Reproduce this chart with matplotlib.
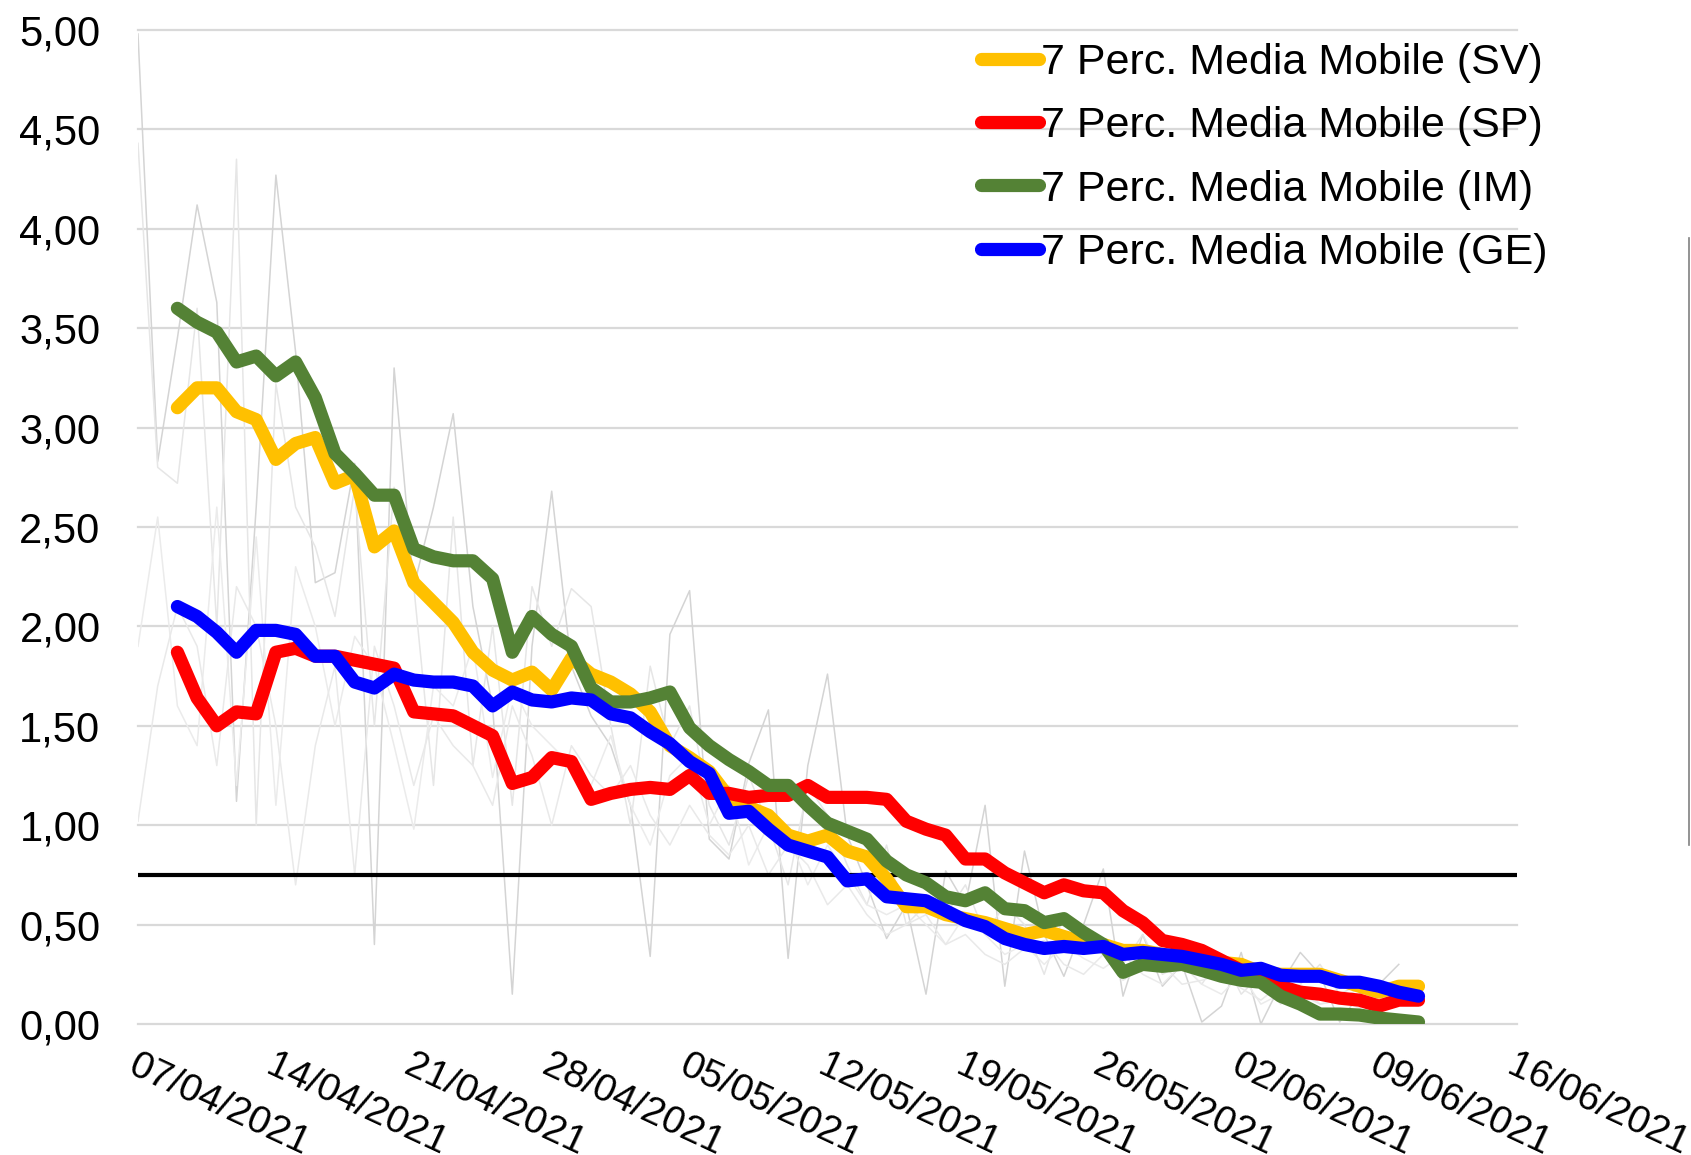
import numpy as np
import matplotlib
matplotlib.use('Agg')
import matplotlib.pyplot as plt
import matplotlib.dates as mdates
from matplotlib.ticker import FuncFormatter, MultipleLocator
from matplotlib.lines import Line2D

plt.rcParams['font.family'] = ['Liberation Sans', 'DejaVu Sans']

# dates: raw daily data from 07/04, moving averages from 09/04 to 11/06
start = np.datetime64('2021-04-07')
raw_days = start + np.arange(65)
ma_days = start + np.arange(2, 66)

# raw daily values (thin grey lines)
raw_1 = [4.98, 2.83, 3.45, 4.12, 3.63, 1.12, 2.60, 4.27, 3.38, 2.22,
         2.27, 2.82, 0.40, 3.30, 2.20, 2.60, 3.07, 2.10, 1.60, 0.15,
         1.90, 2.68, 1.80, 1.55, 1.40, 1.10, 0.34, 1.96, 2.18, 0.93,
         0.83, 1.31, 1.58, 0.33, 1.30, 1.76, 0.95, 0.70, 0.43, 0.60,
         0.15, 0.77, 0.60, 1.10, 0.19, 0.87, 0.45, 0.24, 0.50, 0.78,
         0.14, 0.45, 0.19, 0.30, 0.01, 0.09, 0.36, 0.00, 0.20, 0.36,
         0.25, 0.01, 0.15, 0.20, 0.30]
raw_2 = [4.43, 2.80, 2.72, 3.60, 2.00, 4.35, 1.00, 3.22, 2.60, 2.40,
         2.05, 2.70, 1.50, 2.70, 2.20, 1.20, 2.55, 1.30, 2.00, 1.10,
         2.20, 1.90, 2.19, 2.10, 1.50, 1.00, 1.80, 1.40, 1.60, 1.10,
         0.90, 1.25, 1.00, 0.70, 1.20, 1.05, 0.80, 0.60, 0.90, 0.50,
         0.60, 0.55, 0.70, 0.45, 0.60, 0.50, 0.25, 0.55, 0.40, 0.35,
         0.30, 0.45, 0.25, 0.30, 0.20, 0.35, 0.15, 0.25, 0.10, 0.20,
         0.30, 0.15, 0.20, 0.10, 0.18]
raw_3 = [1.90, 2.55, 1.60, 1.40, 2.60, 1.20, 2.45, 1.10, 2.30, 2.00,
         1.50, 1.95, 1.80, 1.40, 0.98, 1.70, 1.60, 1.90, 1.24, 1.70,
         1.50, 1.40, 1.30, 1.20, 1.45, 1.10, 0.90, 1.25, 1.35, 1.00,
         1.20, 0.80, 1.00, 0.95, 0.70, 0.90, 0.75, 0.60, 0.55, 0.60,
         0.50, 0.40, 0.55, 0.45, 0.35, 0.40, 0.30, 0.40, 0.33, 0.28,
         0.35, 0.25, 0.20, 0.30, 0.20, 0.15, 0.25, 0.10, 0.15, 0.20,
         0.10, 0.12, 0.08, 0.15, 0.10]
raw_4 = [1.02, 1.70, 2.10, 1.90, 1.30, 2.20, 2.00, 1.50, 0.70, 1.40,
         1.80, 0.75, 1.90, 1.60, 1.20, 1.55, 1.40, 1.30, 1.10, 1.60,
         1.35, 1.00, 1.40, 1.25, 1.15, 1.30, 1.05, 0.90, 1.10, 0.95,
         0.85, 1.00, 0.75, 0.90, 0.80, 0.60, 0.70, 0.55, 0.45, 0.50,
         0.55, 0.40, 0.45, 0.35, 0.30, 0.38, 0.42, 0.30, 0.25, 0.35,
         0.22, 0.28, 0.30, 0.20, 0.22, 0.25, 0.18, 0.12, 0.20, 0.15,
         0.10, 0.12, 0.18, 0.10, 0.14]

# 7 day moving averages
ma_sv = [3.10, 3.20, 3.20, 3.08, 3.04, 2.84, 2.92, 2.95, 2.72, 2.76,
         2.40, 2.48, 2.22, 2.12, 2.02, 1.87, 1.78, 1.73, 1.77, 1.68,
         1.84, 1.76, 1.72, 1.66, 1.57, 1.40, 1.34, 1.27, 1.14, 1.09,
         1.05, 0.95, 0.92, 0.95, 0.87, 0.84, 0.73, 0.59, 0.59, 0.55,
         0.53, 0.51, 0.48, 0.45, 0.47, 0.44, 0.41, 0.40, 0.37, 0.37,
         0.35, 0.34, 0.33, 0.31, 0.30, 0.26, 0.25, 0.25, 0.25, 0.22,
         0.19, 0.16, 0.19, 0.19]
ma_sp = [1.87, 1.64, 1.50, 1.57, 1.56, 1.87, 1.89, 1.85, 1.85, 1.83,
         1.81, 1.79, 1.57, 1.56, 1.55, 1.50, 1.45, 1.21, 1.24, 1.34,
         1.32, 1.13, 1.16, 1.18, 1.19, 1.18, 1.25, 1.16, 1.16, 1.14,
         1.15, 1.15, 1.20, 1.14, 1.14, 1.14, 1.13, 1.02, 0.98, 0.95,
         0.83, 0.83, 0.76, 0.71, 0.66, 0.70, 0.67, 0.66, 0.57, 0.51,
         0.42, 0.40, 0.37, 0.32, 0.27, 0.22, 0.19, 0.16, 0.15, 0.13,
         0.12, 0.09, 0.12, 0.12]
ma_im = [3.60, 3.53, 3.48, 3.33, 3.36, 3.26, 3.33, 3.15, 2.87, 2.77,
         2.66, 2.66, 2.39, 2.35, 2.33, 2.33, 2.24, 1.87, 2.05, 1.96,
         1.90, 1.69, 1.62, 1.62, 1.64, 1.67, 1.49, 1.40, 1.33, 1.27,
         1.20, 1.20, 1.10, 1.01, 0.97, 0.93, 0.82, 0.75, 0.71, 0.64,
         0.62, 0.66, 0.58, 0.57, 0.51, 0.53, 0.46, 0.40, 0.26, 0.30,
         0.29, 0.30, 0.27, 0.24, 0.22, 0.21, 0.14, 0.10, 0.05, 0.05,
         0.045, 0.03, 0.02, 0.01]
ma_ge = [2.10, 2.05, 1.97, 1.87, 1.98, 1.98, 1.96, 1.85, 1.85, 1.72,
         1.69, 1.76, 1.73, 1.72, 1.72, 1.70, 1.60, 1.67, 1.63, 1.62,
         1.64, 1.63, 1.56, 1.54, 1.47, 1.41, 1.32, 1.26, 1.06, 1.07,
         0.98, 0.90, 0.87, 0.84, 0.72, 0.73, 0.64, 0.63, 0.62, 0.57,
         0.52, 0.49, 0.43, 0.40, 0.38, 0.39, 0.38, 0.39, 0.35, 0.36,
         0.35, 0.34, 0.32, 0.30, 0.27, 0.28, 0.245, 0.24, 0.24, 0.21,
         0.21, 0.19, 0.16, 0.14]

threshold = 0.75

labels = ['7 Perc. Media Mobile (SV)', '7 Perc. Media Mobile (SP)',
          '7 Perc. Media Mobile (IM)', '7 Perc. Media Mobile (GE)']
colors = ['#FFC000', '#FF0000', '#548235', '#0000FF']

fig = plt.figure(figsize=(16.91, 11.55), dpi=100)
ax = fig.add_axes([138 / 1691, 131 / 1155, (1517 - 138) / 1691, (1024 - 30) / 1155])

# raw data in grey
ax.plot(raw_days, raw_1, color='#D4D4D4', lw=1.1, zorder=2)
ax.plot(raw_days, raw_2, color='#E6E6E6', lw=1.1, zorder=2)
ax.plot(raw_days, raw_3, color='#EBEBEB', lw=1.1, zorder=2)
ax.plot(raw_days, raw_4, color='#E9E9E9', lw=1.1, zorder=2)

ax.axhline(threshold, color='black', lw=3, zorder=3)

for vals, lab, col in zip([ma_sv, ma_sp, ma_im, ma_ge], labels, colors):
    ax.plot(ma_days, vals, color=col, lw=9.5, label=lab, zorder=4,
            solid_capstyle='round', solid_joinstyle='round')

ax.set_ylim(0, 5)
ax.set_xlim(np.datetime64('2021-04-07'), np.datetime64('2021-06-16'))
ax.yaxis.set_major_locator(MultipleLocator(0.5))
ax.yaxis.set_major_formatter(FuncFormatter(lambda v, p: f'{v:.2f}'.replace('.', ',')))
ax.set_xticks(np.arange(np.datetime64('2021-04-07'), np.datetime64('2021-06-17'), 7))
ax.xaxis.set_major_formatter(mdates.DateFormatter('%d/%m/%Y'))

ax.grid(axis='y', color='#D9D9D9', lw=1.6, zorder=1)
for gl in ax.get_ygridlines():
    gl.set_clip_on(False)
ax.set_axisbelow(True)
for s in ax.spines.values():
    s.set_visible(False)

ax.tick_params(axis='y', length=0, pad=27, labelsize=30)
ax.tick_params(axis='x', length=0, pad=17, labelsize=28)
for t in ax.get_xticklabels():
    t.set_rotation(-25)
    t.set_ha('left')
    t.set_va('top')
    t.set_rotation_mode('anchor')

ax.legend(loc='upper left', bbox_to_anchor=(981 / 1691, 1 - 43 / 1155),
          bbox_transform=fig.transFigure, frameon=False, fontsize=31,
          handlelength=1.35, handletextpad=0.05, labelspacing=0.54,
          borderpad=0, borderaxespad=0)

# stray axis line at the right edge of the image
fig.add_artist(Line2D([1689 / 1691, 1689 / 1691], [1 - 238 / 1155, 1 - 845 / 1155],
                      color='#808080', lw=1.2))

fig.savefig('out.png', dpi=100)
